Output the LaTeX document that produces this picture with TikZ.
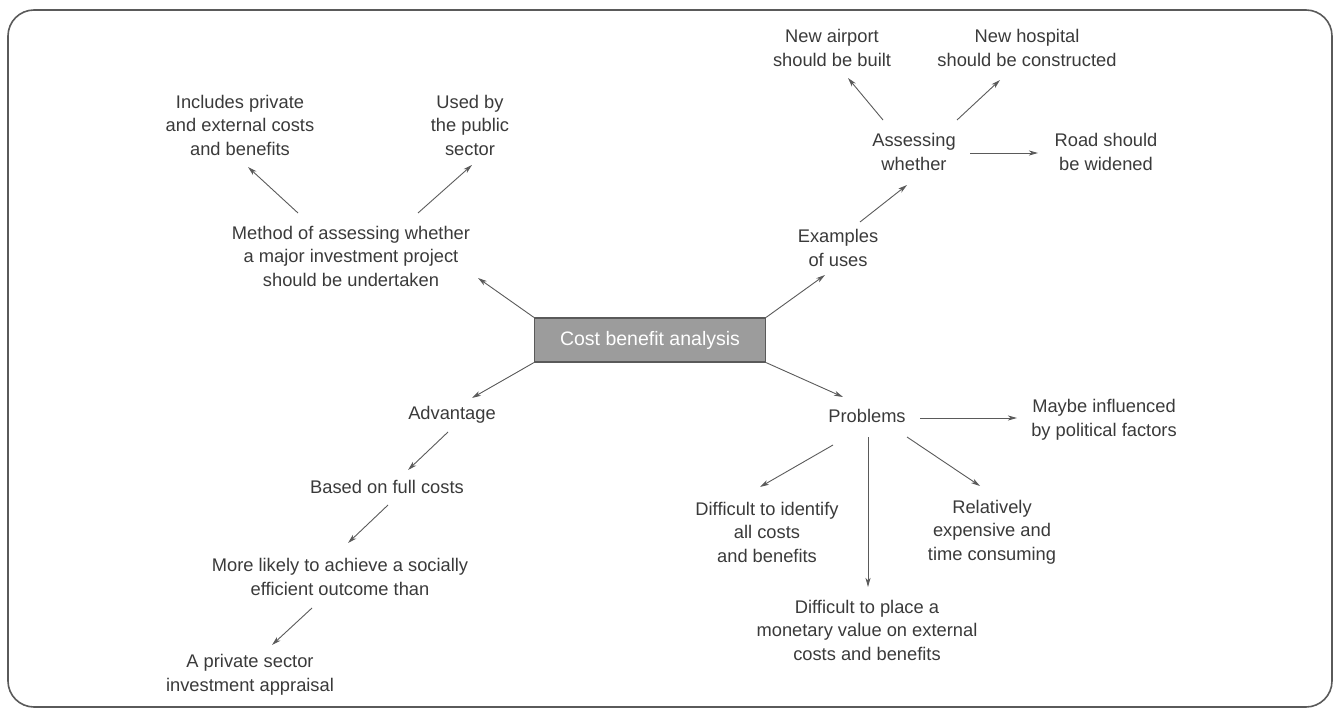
\documentclass[tikz,border=0pt]{standalone}
\usepackage{fontspec}
\setmainfont{Liberation Sans}
\usetikzlibrary{arrows.meta}
\definecolor{inkgrey}{HTML}{3A3A3A}
\definecolor{linegrey}{HTML}{5A5A5A}
\definecolor{hubfill}{HTML}{9C9C9C}
\begin{document}
\begin{tikzpicture}[x=1pt,y=-1pt,
  txt/.style={align=center,inner sep=1pt,text=inkgrey,
    font=\fontsize{18.3pt}{23.5pt}\selectfont},
  hub/.style={draw=linegrey,line width=1.2pt,fill=hubfill,text=white,
    minimum width=231pt,minimum height=44pt,inner sep=0pt,
    font=\fontsize{19.5pt}{23.5pt}\selectfont},
  arr/.style={draw=linegrey,line width=0.9pt,
    -{Stealth[length=9pt,width=5pt,inset=2.5pt]}}]
\useasboundingbox (0,0) rectangle (1335,711);
\draw[linegrey,line width=1.6pt,rounded corners=26pt] (8,10) rectangle (1332,707);

% central topic
\node[hub] (c) at (650,340) {Cost benefit analysis};

% definition branch
\node[txt] (m) at (351,256) {Method of assessing whether\\a major investment project\\should be undertaken};
\node[txt] (i) at (240,125) {Includes private\\and external costs\\and benefits};
\node[txt] (u) at (470,125) {Used by\\the public\\sector};

% uses branch
\node[txt] (e) at (838,248) {Examples\\of uses};
\node[txt] (a) at (914,152) {Assessing\\whether};
\node[txt] (n1) at (832,48) {New airport\\should be built};
\node[txt] (n2) at (1027,48) {New hospital\\should be constructed};
\node[txt] (r) at (1106,152) {Road should\\be widened};

% advantage branch
\node[txt] (adv) at (452,415) {Advantage};
\node[txt] (b) at (387,487) {Based on full costs};
\node[txt] (mo) at (340,577) {More likely to achieve a socially\\efficient outcome than};
\node[txt] (p) at (250,675) {A private sector\\investment appraisal};

% problems branch
\node[txt] (pr) at (867,416) {Problems};
\node[txt] (my) at (1104,420) {Maybe influenced\\by political factors};
\node[txt] (rel) at (992,532) {Relatively\\expensive and\\time consuming};
\node[txt] (id) at (767,532) {Difficult to identify\\all costs\\and benefits};
\node[txt] (pl) at (867,630) {Difficult to place a\\monetary value on external\\costs and benefits};

% connectors
\draw[arr] (c.north west) -- ([shift={(127,22)}]m.center);
\draw[arr] ([shift={(-53,-43)}]m.center) -- ([shift={(8,42)}]i.center);
\draw[arr] ([shift={(67,-43)}]m.center) -- ([shift={(2,40)}]u.center);

\draw[arr] (c.north east) -- ([shift={(-13,27)}]e.center);
\draw[arr] ([shift={(22,-26)}]e.center) -- ([shift={(-7,33)}]a.center);
\draw[arr] ([shift={(-31,-32)}]a.center) -- ([shift={(16,30)}]n1.center);
\draw[arr] ([shift={(43,-32)}]a.center) -- ([shift={(-27,32)}]n2.center);
\draw[arr] ([shift={(56,1)}]a.center) -- ([shift={(-68,1)}]r.center);

\draw[arr] (c.south west) -- ([shift={(20,-17)}]adv.center);
\draw[arr] ([shift={(-4,17)}]adv.center) -- ([shift={(21,-17)}]b.center);
\draw[arr] ([shift={(1,18)}]b.center) -- ([shift={(8,-34)}]mo.center);
\draw[arr] ([shift={(-28,31)}]mo.center) -- ([shift={(22,-30)}]p.center);

\draw[arr] (c.south east) -- ([shift={(-24,-19)}]pr.center);
\draw[arr] ([shift={(53,2)}]pr.center) -- ([shift={(-87,-2)}]my.center);
\draw[arr] ([shift={(40,21)}]pr.center) -- ([shift={(-12,-46)}]rel.center);
\draw[arr] ([shift={(-34,29)}]pr.center) -- ([shift={(-7,-45)}]id.center);
\draw[arr] ([shift={(1,21)}]pr.center) -- ([shift={(1,-43)}]pl.center);
\end{tikzpicture}
\end{document}
